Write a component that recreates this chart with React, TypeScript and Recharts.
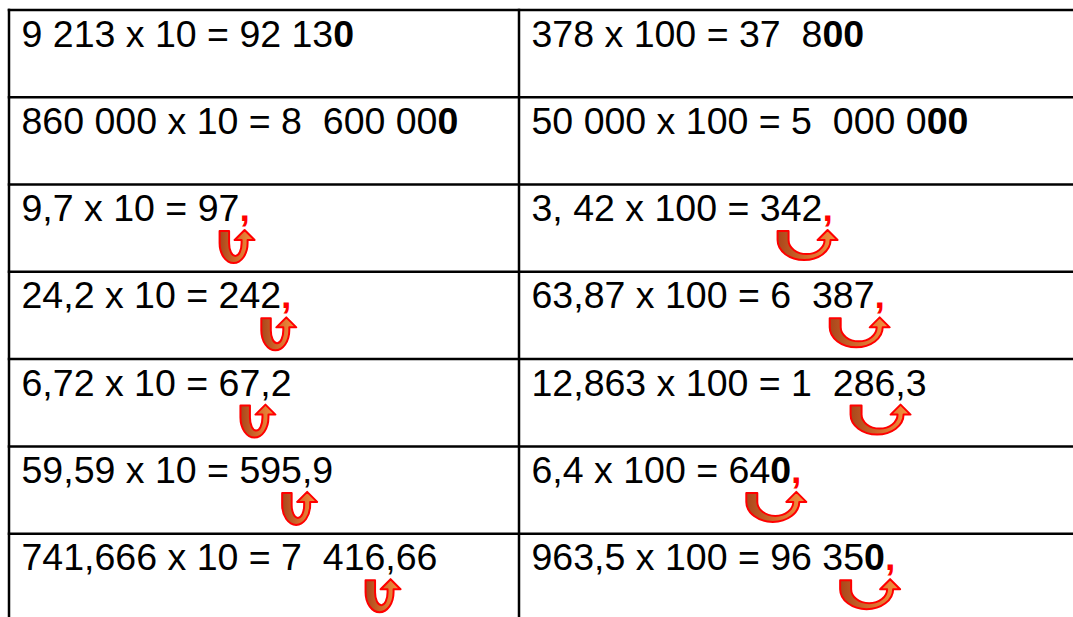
import React from "react";
import { ScatterChart, Scatter, XAxis, YAxis, ReferenceLine } from "recharts";

// Cell texts: [..] = bold, {..} = red bold
const leftColumn: string[] = [
  "9 213 x 10 = 92 13[0]",
  "860 000 x 10 = 8  600 00[0]",
  "9,7 x 10 = 97{,}",
  "24,2 x 10 = 242{,}",
  "6,72 x 10 = 67,2",
  "59,59 x 10 = 595,9",
  "741,666 x 10 = 7  416,66",
];
const rightColumn: string[] = [
  "378 x 100 = 37  8[00]",
  "50 000 x 100 = 5  000 0[00]",
  "3, 42 x 100 = 342{,}",
  "63,87 x 100 = 6  387{,}",
  "12,863 x 100 = 1  286,3",
  "6,4 x 100 = 64[0]{,}",
  "963,5 x 100 = 96 35[0]{,}",
];
// rows that carry a "comma jump" arrow
const arrowRows: number[] = [2, 3, 4, 5, 6];
// digits the comma moves in each column (x10 -> 1, x100 -> 2)
const columnShift: number[] = [1, 2];
// table grid (row / column boundaries, in cell units)
const rowLines: number[] = [0, 1, 2, 3, 4, 5, 6];
const colLines: number[] = [0, 1];

const W = 1073;
const H = 617;
const X_DOMAIN: [number, number] = [-9 / 510, (W - 9) / 510];
const ROW_H = 87.28;
const Y_DOMAIN: [number, number] = [-10 / ROW_H, (H - 10) / ROW_H];
const FONT_SIZE = 37.5;
const FONT = '"Liberation Sans", Arial, Helvetica, sans-serif';
const TEXT_DX = 12.5;
const BASE_DY = 36.5;

type Seg = { t: string; b?: boolean; r?: boolean };
function parse(s: string): Seg[] {
  const out: Seg[] = [];
  let cur = "";
  let mode: "n" | "b" | "r" = "n";
  const push = () => {
    if (cur) out.push({ t: cur, b: mode !== "n", r: mode === "r" });
    cur = "";
  };
  for (const ch of s) {
    if (ch === "[") { push(); mode = "b"; }
    else if (ch === "]") { push(); mode = "n"; }
    else if (ch === "{") { push(); mode = "r"; }
    else if (ch === "}") { push(); mode = "n"; }
    else cur += ch;
  }
  push();
  return out;
}
const plain = (s: string) => s.replace(/[\[\]{}]/g, "");

let ctx: CanvasRenderingContext2D | null = null;
function measure(s: string): number {
  if (!ctx) ctx = document.createElement("canvas").getContext("2d");
  if (!ctx) return s.length * FONT_SIZE * 0.5;
  ctx.font = `${FONT_SIZE}px "Liberation Sans", Arial, sans-serif`;
  return ctx.measureText(s).width;
}

const cellData = [
  ...leftColumn.map((text, i) => ({ x: 0, y: i, text })),
  ...rightColumn.map((text, i) => ({ x: 1, y: i, text })),
];
const arrowData = [
  ...arrowRows.map((r) => ({ x: 0, y: r, text: leftColumn[r], shift: columnShift[0] })),
  ...arrowRows.map((r) => ({ x: 1, y: r, text: rightColumn[r], shift: columnShift[1] })),
];

const CellText = (p: any) => {
  const { cx, cy, payload } = p;
  const segs = parse(payload.text);
  return (
    <text
      x={cx + TEXT_DX}
      y={cy + BASE_DY}
      fontFamily={FONT}
      fontSize={FONT_SIZE}
      fill="#000"
      style={{ whiteSpace: "pre" }}
    >
      {segs.map((s, i) => (
        <tspan key={i} fontWeight={s.b ? "bold" : "normal"} fill={s.r ? "#FF0000" : "#000"}>
          {s.t}
        </tspan>
      ))}
    </text>
  );
};

const Arrow = (p: any) => {
  const { cx, cy, payload } = p;
  const txt = plain(payload.text);
  const idx = txt.lastIndexOf(",");
  const tipX = cx + TEXT_DX + measure(txt.slice(0, idx)) + measure(",") / 2;
  const tipY = cy + BASE_DY + 9;
  const narrow = payload.shift === 1;
  const w = narrow ? 25 : 50; // left arm outer distance from tip
  const t = narrow ? 9.5 : 11; // left arm thickness
  const aw = 3;
  const ah = 10;
  const hb = 10;
  const yArc = narrow ? 13 : 10;
  const depth = narrow ? 33 : 30;
  const bt = narrow ? 7 : 6;
  const rx = (w + aw) / 2;
  const ry = depth - yArc;
  const rxi = (w - t - aw) / 2;
  const ryi = ry - bt;
  const X = (v: number) => (tipX + v).toFixed(2);
  const Y = (v: number) => (tipY + v).toFixed(2);
  const d = [
    `M${X(-w)},${Y(1)}`,
    `L${X(-w)},${Y(yArc)}`,
    `A${rx},${ry} 0 0 0 ${X(aw)},${Y(yArc)}`,
    `L${X(aw)},${Y(hb)}`,
    `L${X(ah)},${Y(hb)}`,
    `L${X(0)},${Y(0)}`,
    `L${X(-ah)},${Y(hb)}`,
    `L${X(-aw)},${Y(hb)}`,
    `L${X(-aw)},${Y(yArc)}`,
    `A${rxi},${ryi} 0 0 1 ${X(-w + t)},${Y(yArc)}`,
    `L${X(-w + t)},${Y(1)}`,
    "Z",
  ].join(" ");
  return (
    <path d={d} fill="url(#arrowFill)" stroke="#FF0000" strokeWidth={2} strokeLinejoin="round" />
  );
};

export default function App() {
  return (
    <div style={{ position: "absolute", left: 0, top: 0, width: W, height: H, background: "#fff" }}>
      <ScatterChart width={W} height={H} margin={{ top: 0, right: 0, bottom: 0, left: 0 }}>
        <defs>
          <linearGradient id="arrowFill" x1="0" y1="0" x2="1" y2="0">
            <stop offset="0%" stopColor="#A9461B" />
            <stop offset="55%" stopColor="#D9702E" />
            <stop offset="100%" stopColor="#F5943F" />
          </linearGradient>
        </defs>
        <XAxis type="number" dataKey="x" domain={X_DOMAIN} allowDataOverflow hide />
        <YAxis type="number" dataKey="y" domain={Y_DOMAIN} allowDataOverflow reversed hide />
        {rowLines.map((r) => (
          <ReferenceLine
            key={"h" + r}
            segment={[{ x: 0, y: r }, { x: X_DOMAIN[1], y: r }]}
            stroke="#000"
            strokeWidth={2.5}
            strokeLinecap="square"
          />
        ))}
        {colLines.map((c) => (
          <ReferenceLine
            key={"v" + c}
            segment={[{ x: c, y: 0 }, { x: c, y: Y_DOMAIN[1] }]}
            stroke="#000"
            strokeWidth={2.5}
            strokeLinecap="square"
          />
        ))}
        <Scatter data={cellData} shape={CellText} isAnimationActive={false} />
        <Scatter data={arrowData} shape={Arrow} isAnimationActive={false} />
      </ScatterChart>
    </div>
  );
}
